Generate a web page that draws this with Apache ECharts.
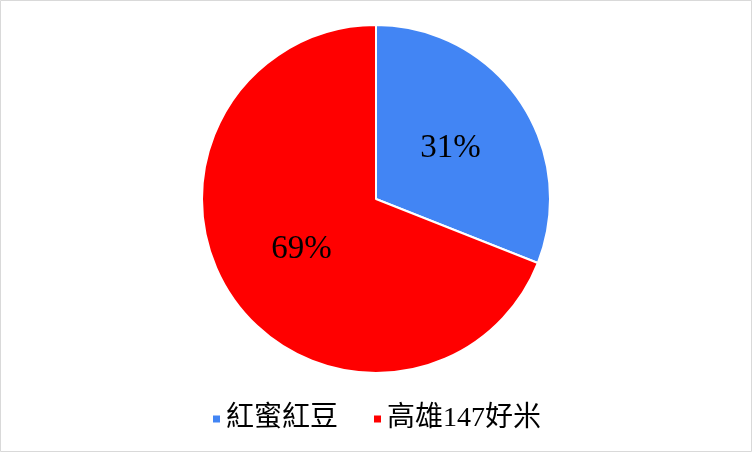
<!DOCTYPE html>
<html>
<head>
<meta charset="utf-8">
<script src="https://cdn.jsdelivr.net/npm/echarts@6/dist/echarts.min.js"></script>
<style>
html,body{margin:0;padding:0;background:#fff;}
#chart{width:752px;height:452px;}
</style>
</head>
<body>
<div id="chart"></div>
<script>
const categories = ['紅蜜紅豆', '高雄147好米'];
const values = [31, 69];
const colors = ['#4285F4', '#FF0000'];

const chart = echarts.init(document.getElementById('chart'), null, {renderer: 'canvas'});
chart.setOption({
  animation: false,
  backgroundColor: '#ffffff',
  graphic: [{
    type: 'rect',
    shape: {x: 0.5, y: 0.5, width: 751, height: 451},
    style: {fill: 'none', stroke: '#d9d9d9', lineWidth: 1},
    silent: true
  }],
  legend: {
    data: categories,
    left: 'center',
    top: 400,
    icon: 'rect',
    itemWidth: 9,
    itemHeight: 9,
    itemGap: 34,
    textStyle: {
      fontFamily: '"Liberation Serif", "Noto Sans CJK TC", serif',
      fontSize: 28,
      color: '#000'
    }
  },
  series: [{
    type: 'pie',
    center: [376, 199],
    radius: 174,
    startAngle: 90,
    clockwise: true,
    data: categories.map((c, i) => ({name: c, value: values[i], itemStyle: {color: colors[i]}})),
    itemStyle: {borderColor: '#ffffff', borderWidth: 2},
    label: {
      show: true,
      position: 'inside',
      formatter: '{d}%',
      fontFamily: '"Liberation Serif", serif',
      fontSize: 33,
      color: '#000'
    },
    labelLine: {show: false},
    emphasis: {disabled: true}
  }]
});
</script>
</body>
</html>
